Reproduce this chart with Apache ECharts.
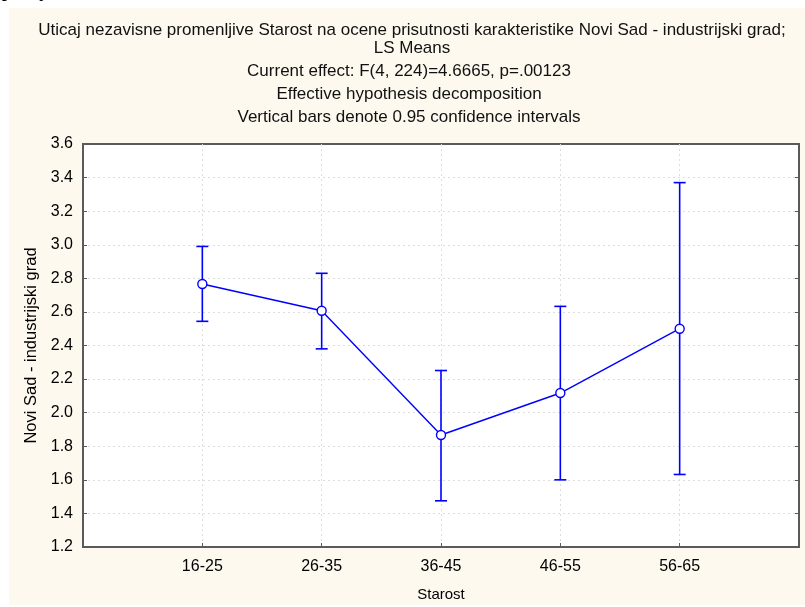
<!DOCTYPE html>
<html><head><meta charset="utf-8">
<script src="https://cdn.jsdelivr.net/npm/echarts@6/dist/echarts.min.js"></script>
<style>html,body{margin:0;padding:0;background:#fff;}#c{width:805px;height:607px;}</style>
</head><body><div id="c"></div>
<script>
const categories = ['', '16-25', '26-35', '36-45', '46-55', '56-65', ''];
const means = [null, 2.766, 2.607, 1.867, 2.117, 2.500, null];
const upper = [null, 2.990, 2.830, 2.251, 2.633, 3.370, null];
const lower = [null, 2.544, 2.380, 1.475, 1.600, 1.632, null];
const titleLines = [
  'Uticaj nezavisne promenljive Starost na ocene prisutnosti karakteristike Novi Sad - industrijski grad;',
  'LS Means',
  'Current effect: F(4, 224)=4.6665, p=.00123',
  'Effective hypothesis decomposition',
  'Vertical bars denote 0.95 confidence intervals'
];
const yTicks = [1.2, 3.6, 0.2];

const blue = '#0000ff';
const font = 'Arial, "Liberation Sans", sans-serif';
const errData = categories.map((c, i) => [i, lower[i], upper[i]]).filter(d => d[1] != null);
const tf = '17px ' + font;

const chart = echarts.init(document.getElementById('c'), null, {renderer: 'canvas'});
chart.setOption({
  animation: false,
  backgroundColor: '#ffffff',
  graphic: [
    {type: 'rect', z: -10, shape: {x: 9, y: 8, width: 796, height: 597}, style: {fill: '#fef9ef'}},
    {type: 'text', left: 2, top: -16, style: {text: 'pitanjima', fill: '#000', font: 'bold 17px "Liberation Serif", serif'}},
    {type: 'text', x: 412, y: 30, style: {text: titleLines[0], fill: '#111', font: tf, align: 'center', verticalAlign: 'middle'}},
    {type: 'text', x: 412, y: 48, style: {text: titleLines[1], fill: '#111', font: tf, align: 'center', verticalAlign: 'middle'}},
    {type: 'text', x: 409, y: 71, style: {text: titleLines[2], fill: '#111', font: tf, align: 'center', verticalAlign: 'middle'}},
    {type: 'text', x: 409, y: 94, style: {text: titleLines[3], fill: '#111', font: tf, align: 'center', verticalAlign: 'middle'}},
    {type: 'text', x: 409, y: 117, style: {text: titleLines[4], fill: '#111', font: tf, align: 'center', verticalAlign: 'middle'}}
  ],
  grid: {left: 83, top: 144, right: 6, bottom: 60, show: true, backgroundColor: '#ffffff', borderColor: '#5a5a5a', borderWidth: 2},
  xAxis: {
    type: 'category', data: categories, boundaryGap: false,
    name: 'Starost', nameLocation: 'middle', nameGap: 40,
    nameTextStyle: {color: '#000', fontSize: 15, fontFamily: font},
    axisLine: {lineStyle: {color: '#5a5a5a', width: 2}},
    axisTick: {inside: true, length: 4, lineStyle: {color: '#5a5a5a'}},
    axisLabel: {color: '#000', fontSize: 16, fontFamily: font, margin: 12},
    splitLine: {show: true, lineStyle: {color: '#dddddd', type: [2, 3], width: 1}}
  },
  yAxis: [{
    type: 'value', min: yTicks[0], max: yTicks[1], interval: yTicks[2],
    name: 'Novi Sad - industrijski grad', nameLocation: 'middle', nameGap: 41,
    nameTextStyle: {color: '#000', fontSize: 16.5, fontFamily: font},
    axisLine: {show: true, lineStyle: {color: '#5a5a5a', width: 2}},
    axisTick: {show: true, inside: true, length: 4, lineStyle: {color: '#5a5a5a'}},
    axisLabel: {color: '#000', fontSize: 16, fontFamily: font, margin: 10, formatter: v => v.toFixed(1)},
    splitLine: {show: true, showMinLine: false, showMaxLine: false, lineStyle: {color: '#dddddd', type: [2, 3], width: 1}}
  }, {
    type: 'value', position: 'right', min: yTicks[0], max: yTicks[1], interval: yTicks[2],
    axisLine: {show: true, lineStyle: {color: '#5a5a5a', width: 2}},
    axisTick: {show: true, inside: true, length: 4, lineStyle: {color: '#5a5a5a'}},
    axisLabel: {show: false}, splitLine: {show: false}
  }],
  series: [{
    type: 'custom',
    data: errData,
    z: 3,
    renderItem: function (params, api) {
      const x = api.value(0);
      const lo = api.coord([x, api.value(1)]);
      const hi = api.coord([x, api.value(2)]);
      const w = 6;
      const st = {stroke: blue, lineWidth: 1.6};
      return {type: 'group', children: [
        {type: 'line', shape: {x1: lo[0], y1: lo[1], x2: hi[0], y2: hi[1]}, style: st},
        {type: 'line', shape: {x1: lo[0] - w, y1: lo[1], x2: lo[0] + w, y2: lo[1]}, style: st},
        {type: 'line', shape: {x1: hi[0] - w, y1: hi[1], x2: hi[0] + w, y2: hi[1]}, style: st}
      ]};
    }
  }, {
    type: 'line', data: means, z: 5,
    lineStyle: {color: blue, width: 1.4},
    symbol: 'circle', symbolSize: 9,
    itemStyle: {color: '#ffffff', borderColor: blue, borderWidth: 1.4}
  }]
});
</script></body></html>
